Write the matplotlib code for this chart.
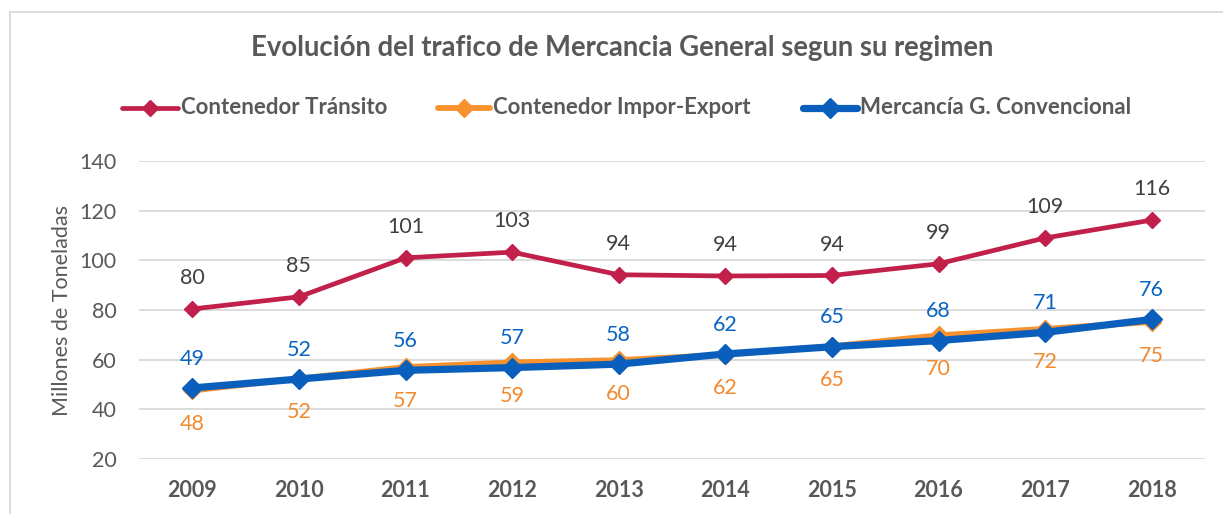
import matplotlib
matplotlib.use("Agg")
import matplotlib.pyplot as plt
from matplotlib.lines import Line2D
import numpy as np

plt.rcParams['font.family'] = ['Lato', 'DejaVu Sans']

years = ["2009", "2010", "2011", "2012", "2013", "2014", "2015", "2016", "2017", "2018"]
transito = [80.4, 85.3, 101.0, 103.3, 94.2, 93.7, 93.9, 98.6, 109.0, 116.2]
impor_export = [47.6, 52.4, 57.0, 58.9, 59.8, 62.0, 65.4, 69.8, 72.4, 75.2]
convencional = [48.6, 52.2, 55.7, 56.8, 58.2, 62.3, 65.2, 67.7, 71.0, 76.2]
transito_lbl = ["80", "85", "101", "103", "94", "94", "94", "99", "109", "116"]
impor_lbl = ["48", "52", "57", "59", "60", "62", "65", "70", "72", "75"]
conv_lbl = ["49", "52", "56", "57", "58", "62", "65", "68", "71", "76"]
series_names = ["Contenedor Tránsito", "Contenedor Impor-Export", "Mercancía G. Convencional"]

c_tr = "#C0204A"
c_ie = "#F7922F"
c_cv = "#0A5FBD"
gray = "#595959"

W, H = 1223, 514
fig = plt.figure(figsize=(W / 100, H / 100), dpi=100)
ax = fig.add_axes([139 / W, 1 - 459 / H, (1205 - 139) / W, (459 - 161) / H])

styles = [
    dict(color=c_tr, lw=3.4, marker="D", ms=8.5),
    dict(color=c_ie, lw=4.2, marker="D", ms=9),
    dict(color=c_cv, lw=5.2, marker="D", ms=10),
]

x = np.arange(len(years))
ax.plot(x, transito, zorder=3, solid_capstyle="round", **styles[0])
ax.plot(x, impor_export, zorder=3, solid_capstyle="round", **styles[1])
ax.plot(x, convencional, zorder=4, solid_capstyle="round", **styles[2])

fs_lbl = 15.5
for i in range(len(years)):
    ax.annotate(transito_lbl[i], (x[i], transito[i]), xytext=(0, 15), textcoords="offset points",
                ha="center", va="bottom", fontsize=fs_lbl, color="#404040")
    ax.annotate(conv_lbl[i], (x[i], convencional[i]), xytext=(0, 14), textcoords="offset points",
                ha="center", va="bottom", fontsize=fs_lbl, color="#0A64C4")
    ax.annotate(impor_lbl[i], (x[i], impor_export[i]), xytext=(0, -17), textcoords="offset points",
                ha="center", va="top", fontsize=fs_lbl, color="#F28A2E")

ax.set_xlim(-0.5, len(years) - 0.5)
ax.set_ylim(20, 140)
ax.set_yticks(range(20, 141, 20))
ax.set_xticks(x)
ax.set_xticklabels(years, fontweight="bold", fontsize=15.5, color=gray)
ax.tick_params(axis="y", labelsize=15.5, labelcolor=gray, length=0, pad=16)
ax.tick_params(axis="x", length=0, pad=15)
ax.grid(axis="y", color="#D9D9D9", lw=1.3)
ax.set_axisbelow(True)
for s in ax.spines.values():
    s.set_visible(False)
ax.set_ylabel("Millones de Toneladas", fontsize=15.5, color=gray, va="center")
ax.yaxis.set_label_coords((62 - 139) / (1205 - 139), 0.5)

fig.text(0.5 * (251 + 993) / W, 1 - 48 / H, "Evolución del trafico de Mercancia General segun su regimen",
         ha="center", va="center", fontsize=19.8, fontweight="bold", color=gray)

# legend (manual placement)
leg_y = 1 - 108 / H
leg_spans = [(122, 178), (438, 490), (803, 857)]
for (x0, x1), st, name in zip(leg_spans, styles, series_names):
    fig.add_artist(Line2D([x0 / W, x1 / W], [leg_y, leg_y], transform=fig.transFigure,
                          color=st["color"], lw=st["lw"], solid_capstyle="round"))
    fig.add_artist(Line2D([(x0 + x1) / 2 / W], [leg_y], transform=fig.transFigure,
                          color=st["color"], marker="D", ms=st["ms"], lw=0))
    fig.text((x1 + 3) / W, leg_y, name, ha="left", va="center", fontsize=16,
             fontweight="bold", color=gray)

# chart frame
fig.add_artist(Line2D([10 / W, 10 / W], [0, 1 - 12 / H], transform=fig.transFigure, color="#D9D9D9", lw=1.3))
fig.add_artist(Line2D([10 / W, 1], [1 - 12 / H, 1 - 12 / H], transform=fig.transFigure, color="#D9D9D9", lw=1.3))

fig.savefig("out.png", dpi=100)
